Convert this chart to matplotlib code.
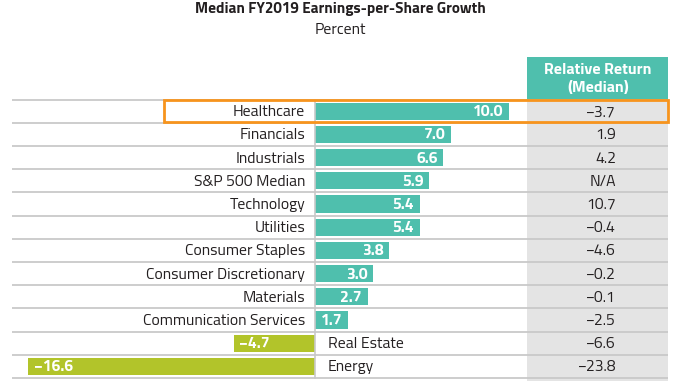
import matplotlib
matplotlib.use("Agg")
import matplotlib.pyplot as plt
import numpy as np
from matplotlib.patches import Rectangle

# ---------------- data ----------------
categories = ["Healthcare", "Financials", "Industrials", "S&P 500 Median", "Technology",
              "Utilities", "Consumer Staples", "Consumer Discretionary", "Materials",
              "Communication Services", "Real Estate", "Energy"]
eps_growth = [10.0, 7.0, 6.6, 5.9, 5.4, 5.4, 3.8, 3.0, 2.7, 1.7, -4.7, -16.6]
relative_return = ["\u22123.7", "1.9", "4.2", "N/A", "10.7", "\u22120.4", "\u22124.6",
                   "\u22120.2", "\u22120.1", "\u22122.5", "\u22126.6", "\u221223.8"]
title = "Median FY2019 Earnings-per-Share Growth"
subtitle = "Percent"
column_header = "Relative Return\n(Median)"
highlight = "Healthcare"

# ---------------- style ----------------
FONT = "Titillium Web"
plt.rcParams["font.family"] = [FONT, "DejaVu Sans"]
TEAL = "#4FBFAD"
GREEN = "#B2C42A"
GRAY_COL = "#E4E4E4"
LINE = "#C9C9C9"
ORANGE = "#F7941D"
TXT = "#231F20"
FS = 11.3

W, H = 680, 381
fig = plt.figure(figsize=(W / 100, H / 100), dpi=100)
ax = fig.add_axes([0, 0, 1, 1])

NEG = 0.894          # negative side drawn compressed, as in the original
PPU = 19.35          # pixels per percent (positive side)
ZERO_PX = 315.3

def fwd(x):
    x = np.asarray(x, dtype=float)
    return np.where(x >= 0, x, x * NEG)

def inv(t):
    t = np.asarray(t, dtype=float)
    return np.where(t >= 0, t, t / NEG)

ax.set_xscale("function", functions=(fwd, inv))

def px_x(p):
    return float(inv((p - ZERO_PX) / PPU))

ROW0, PITCH = 111.2, 23.2
def px_y(p):
    return (p - ROW0) / PITCH

ax.set_xlim(px_x(0), px_x(W))
ax.set_ylim(px_y(H), px_y(0))
ax.axis("off")

n = len(categories)
y = np.arange(n)
TY = 0.04  # small downward text offset (rows)

# gray column
xl, xr = px_x(527.3), px_x(668.3)
ax.add_patch(Rectangle((xl, -0.5), xr - xl, px_y(H) + 0.5, facecolor=GRAY_COL,
                       edgecolor="none", zorder=0))
# header box
ax.add_patch(Rectangle((xl, px_y(57.3)), xr - xl, -0.5 - px_y(57.3), facecolor=TEAL,
                       edgecolor="none", zorder=1))
ax.text(px_x(597.8), px_y(79), column_header, ha="center", va="center",
        color="white", fontsize=11.5, fontweight="bold", linespacing=1.4, zorder=3)

# row separators
for k in range(n + 1):
    ax.plot([px_x(12), px_x(668.3)], [k - 0.5, k - 0.5], color=LINE, lw=1.3,
            zorder=1, solid_capstyle="butt")

# bars
colors = [TEAL if v >= 0 else GREEN for v in eps_growth]
ax.barh(y, eps_growth, height=0.745, color=colors, zorder=2)

# zero line
ax.plot([0, 0], [-0.5, n - 0.5], color=LINE, lw=1.2, zorder=3)

for i, (c, v, r) in enumerate(zip(categories, eps_growth, relative_return)):
    lab = f"{abs(v):.1f}" if v >= 0 else f"\u2212{abs(v):.1f}"
    if v >= 0:
        ax.text(px_x(305), i + TY, c, ha="right", va="center", color=TXT, fontsize=FS, zorder=4)
        xe = float(inv(fwd(v) - 5.5 / PPU))
        ax.text(xe, i + TY, lab, ha="right", va="center", color="white", fontsize=FS,
                fontweight="bold", zorder=4)
    else:
        ax.text(px_x(328), i + TY, c, ha="left", va="center", color=TXT, fontsize=FS, zorder=4)
        xs = float(inv(fwd(v) + 5.5 / PPU))
        ax.text(xs, i + TY, lab, ha="left", va="center", color="white", fontsize=FS,
                fontweight="bold", zorder=4)
    ax.text(px_x(616), i + TY, r, ha="right", va="center", color=TXT, fontsize=FS, zorder=4)

# highlight box
hi = categories.index(highlight)
hl, hr = px_x(163.5), px_x(667.5)
ax.add_patch(Rectangle((hl, hi - 0.5), hr - hl, 0.97, facecolor="none",
                       edgecolor=ORANGE, lw=2, zorder=5))

# titles
fig.text(340 / W, 1 - 9 / H, title, ha="center", va="center", fontsize=11,
         fontweight="bold", color=TXT)
fig.text(340 / W, 1 - 30 / H, subtitle, ha="center", va="center", fontsize=11.3,
         color=TXT)

fig.savefig("out.png", dpi=100)
